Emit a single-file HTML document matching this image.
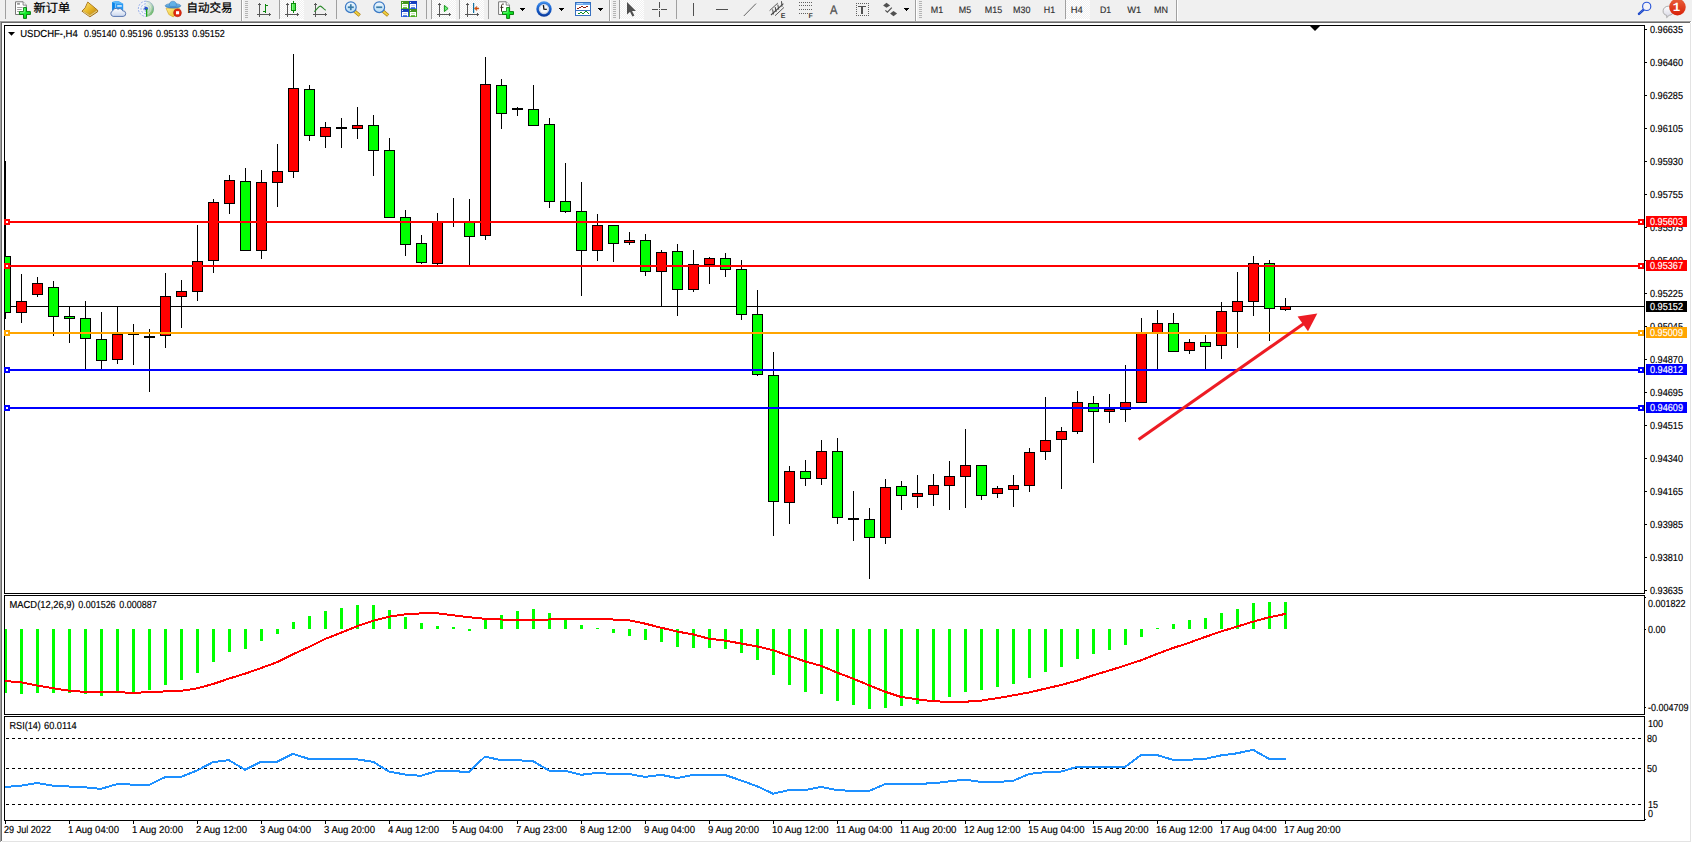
<!DOCTYPE html>
<html><head><meta charset="utf-8"><title>USDCHF-,H4</title>
<style>html,body{margin:0;padding:0;background:#fff;overflow:hidden}svg{display:block;font-family:"Liberation Sans","Noto Sans CJK SC",sans-serif;text-rendering:geometricPrecision}text{white-space:pre}</style>
</head><body>
<svg width="1692" height="843" viewBox="0 0 1692 843">
<defs>
<clipPath id="cm"><rect x="5" y="26" width="1639" height="567"/></clipPath>
<clipPath id="cd"><rect x="5" y="596" width="1639" height="118"/></clipPath>
<clipPath id="cr"><rect x="5" y="717" width="1639" height="103"/></clipPath>
<linearGradient id="gGold" x1="0" y1="0" x2="1" y2="1"><stop offset="0" stop-color="#fbe27a"/><stop offset="0.5" stop-color="#e9b92a"/><stop offset="1" stop-color="#b98112"/></linearGradient>
<linearGradient id="gPlus" x1="0" y1="0" x2="1" y2="1"><stop offset="0" stop-color="#6cff7c"/><stop offset="0.5" stop-color="#12ee2a"/><stop offset="1" stop-color="#04c018"/></linearGradient>
<linearGradient id="gPaper" x1="0" y1="0" x2="0" y2="1"><stop offset="0" stop-color="#ffffff"/><stop offset="1" stop-color="#e2e2e2"/></linearGradient>
<linearGradient id="gBlue" x1="0" y1="0" x2="0" y2="1"><stop offset="0" stop-color="#5aa6ee"/><stop offset="1" stop-color="#1658c0"/></linearGradient>
<linearGradient id="gLens" x1="0" y1="0" x2="0" y2="1"><stop offset="0" stop-color="#f2f9fe"/><stop offset="1" stop-color="#b4dcf6"/></linearGradient>
<linearGradient id="gBadge" x1="0" y1="0" x2="0" y2="1"><stop offset="0" stop-color="#e8603a"/><stop offset="1" stop-color="#d82008"/></linearGradient>
<linearGradient id="gGreenSq" x1="0" y1="0" x2="0" y2="1"><stop offset="0" stop-color="#3f8f1c"/><stop offset="1" stop-color="#4caf22"/></linearGradient>
<linearGradient id="gBlueSq" x1="0" y1="0" x2="0" y2="1"><stop offset="0" stop-color="#1238b8"/><stop offset="1" stop-color="#2a62dc"/></linearGradient>
<linearGradient id="gCloud" x1="0" y1="0" x2="0" y2="1"><stop offset="0" stop-color="#ffffff"/><stop offset="1" stop-color="#c9d6ee"/></linearGradient>
<linearGradient id="gHat" x1="0" y1="0" x2="0" y2="1"><stop offset="0" stop-color="#7cc4ec"/><stop offset="1" stop-color="#3a86c8"/></linearGradient>
<linearGradient id="gFace" x1="0" y1="0" x2="1" y2="1"><stop offset="0" stop-color="#fff08a"/><stop offset="1" stop-color="#e8b41e"/></linearGradient>
<pattern id="chk" width="2" height="2" patternUnits="userSpaceOnUse"><rect width="2" height="2" fill="#f0f0f0"/><rect width="1" height="1" fill="#fff"/><rect x="1" y="1" width="1" height="1" fill="#fff"/></pattern>
<linearGradient id="gSig" x1="0" y1="0" x2="1" y2="0"><stop offset="0" stop-color="#8ea6e4"/><stop offset="0.45" stop-color="#7c98dc"/><stop offset="0.6" stop-color="#7fb27f"/><stop offset="1" stop-color="#5aa05a"/></linearGradient>
<linearGradient id="gClock" x1="0" y1="0" x2="0" y2="1"><stop offset="0" stop-color="#4a98f0"/><stop offset="0.5" stop-color="#1560d0"/><stop offset="1" stop-color="#0a389a"/></linearGradient>
<linearGradient id="gRadar" x1="0" y1="0" x2="0.9" y2="1"><stop offset="0" stop-color="#d4e4d4" stop-opacity="0.3"/><stop offset="0.5" stop-color="#a4cca4" stop-opacity="0.7"/><stop offset="1" stop-color="#2c9c2c"/></linearGradient>
<linearGradient id="gBubble" x1="0" y1="0" x2="0" y2="1"><stop offset="0" stop-color="#ffffff"/><stop offset="1" stop-color="#d4d4e2"/></linearGradient>

</defs>
<g shape-rendering="crispEdges">
<rect x="0" y="0" width="1692" height="843" fill="#fff"/>
<rect x="0" y="0" width="1692" height="21" fill="#f0f0f0"/>
<rect x="0" y="20" width="1692" height="1" fill="#f6f6f6"/>
<rect x="0" y="21" width="1691" height="1" fill="#a0a0a0"/>
<rect x="1" y="22" width="1689" height="1" fill="#696969"/>
<rect x="0" y="22" width="1" height="820" fill="#a0a0a0"/>
<rect x="1" y="23" width="1" height="818" fill="#696969"/>
<rect x="1690" y="23" width="1" height="819" fill="#e3e3e3"/>
<rect x="2" y="841" width="1689" height="1" fill="#e3e3e3"/>
<rect x="1691" y="0" width="1" height="21" fill="#f0f0f0"/>
<rect x="4" y="25" width="1641" height="1" fill="#000"/>
<rect x="4" y="25" width="1" height="796" fill="#000"/>
<rect x="1644" y="25" width="1" height="796" fill="#000"/>
<rect x="4" y="593" width="1641" height="1" fill="#000"/>
<rect x="5" y="594" width="1639" height="1" fill="#fff"/>
<rect x="4" y="594" width="1" height="1" fill="#fff"/>
<rect x="1644" y="594" width="1" height="1" fill="#fff"/>
<rect x="4" y="595" width="1641" height="1" fill="#000"/>
<rect x="4" y="714" width="1641" height="1" fill="#000"/>
<rect x="4" y="715" width="1" height="1" fill="#fff"/>
<rect x="1644" y="715" width="1" height="1" fill="#fff"/>
<rect x="4" y="716" width="1641" height="1" fill="#000"/>
<rect x="4" y="820" width="1641" height="1" fill="#000"/>
<rect x="1645" y="819" width="1" height="1" fill="#000"/>
</g>
<g shape-rendering="crispEdges" clip-path="url(#cm)">
<rect x="5" y="306" width="1639" height="1" fill="#000"/>
<rect x="5" y="161" width="1" height="158" fill="#000"/>
<rect x="0" y="256" width="11" height="57" fill="#000"/>
<rect x="1" y="257" width="9" height="55" fill="#0f0"/>
<rect x="21" y="274" width="1" height="49" fill="#000"/>
<rect x="16" y="301" width="11" height="12" fill="#000"/>
<rect x="17" y="302" width="9" height="10" fill="#f00"/>
<rect x="37" y="277" width="1" height="20" fill="#000"/>
<rect x="32" y="283" width="11" height="12" fill="#000"/>
<rect x="33" y="284" width="9" height="10" fill="#f00"/>
<rect x="53" y="281" width="1" height="55" fill="#000"/>
<rect x="48" y="287" width="11" height="30" fill="#000"/>
<rect x="49" y="288" width="9" height="28" fill="#0f0"/>
<rect x="69" y="306" width="1" height="37" fill="#000"/>
<rect x="64" y="316" width="11" height="3" fill="#000"/>
<rect x="65" y="317" width="9" height="1" fill="#0f0"/>
<rect x="85" y="301" width="1" height="68" fill="#000"/>
<rect x="80" y="318" width="11" height="21" fill="#000"/>
<rect x="81" y="319" width="9" height="19" fill="#0f0"/>
<rect x="101" y="312" width="1" height="57" fill="#000"/>
<rect x="96" y="339" width="11" height="22" fill="#000"/>
<rect x="97" y="340" width="9" height="20" fill="#0f0"/>
<rect x="117" y="306" width="1" height="58" fill="#000"/>
<rect x="112" y="334" width="11" height="26" fill="#000"/>
<rect x="113" y="335" width="9" height="24" fill="#f00"/>
<rect x="133" y="324" width="1" height="41" fill="#000"/>
<rect x="128" y="334" width="11" height="1" fill="#000"/>
<rect x="149" y="329" width="1" height="63" fill="#000"/>
<rect x="144" y="336" width="11" height="2" fill="#000"/>
<rect x="165" y="273" width="1" height="75" fill="#000"/>
<rect x="160" y="296" width="11" height="40" fill="#000"/>
<rect x="161" y="297" width="9" height="38" fill="#f00"/>
<rect x="181" y="280" width="1" height="48" fill="#000"/>
<rect x="176" y="291" width="11" height="6" fill="#000"/>
<rect x="177" y="292" width="9" height="4" fill="#f00"/>
<rect x="197" y="225" width="1" height="76" fill="#000"/>
<rect x="192" y="261" width="11" height="31" fill="#000"/>
<rect x="193" y="262" width="9" height="29" fill="#f00"/>
<rect x="213" y="199" width="1" height="74" fill="#000"/>
<rect x="208" y="202" width="11" height="59" fill="#000"/>
<rect x="209" y="203" width="9" height="57" fill="#f00"/>
<rect x="229" y="175" width="1" height="39" fill="#000"/>
<rect x="224" y="180" width="11" height="24" fill="#000"/>
<rect x="225" y="181" width="9" height="22" fill="#f00"/>
<rect x="245" y="168" width="1" height="83" fill="#000"/>
<rect x="240" y="181" width="11" height="70" fill="#000"/>
<rect x="241" y="182" width="9" height="68" fill="#0f0"/>
<rect x="261" y="170" width="1" height="89" fill="#000"/>
<rect x="256" y="182" width="11" height="69" fill="#000"/>
<rect x="257" y="183" width="9" height="67" fill="#f00"/>
<rect x="277" y="144" width="1" height="63" fill="#000"/>
<rect x="272" y="171" width="11" height="12" fill="#000"/>
<rect x="273" y="172" width="9" height="10" fill="#f00"/>
<rect x="293" y="54" width="1" height="124" fill="#000"/>
<rect x="288" y="88" width="11" height="84" fill="#000"/>
<rect x="289" y="89" width="9" height="82" fill="#f00"/>
<rect x="309" y="85" width="1" height="56" fill="#000"/>
<rect x="304" y="89" width="11" height="47" fill="#000"/>
<rect x="305" y="90" width="9" height="45" fill="#0f0"/>
<rect x="325" y="122" width="1" height="26" fill="#000"/>
<rect x="320" y="127" width="11" height="10" fill="#000"/>
<rect x="321" y="128" width="9" height="8" fill="#f00"/>
<rect x="341" y="118" width="1" height="30" fill="#000"/>
<rect x="336" y="127" width="11" height="2" fill="#000"/>
<rect x="357" y="107" width="1" height="32" fill="#000"/>
<rect x="352" y="125" width="11" height="4" fill="#000"/>
<rect x="353" y="126" width="9" height="2" fill="#f00"/>
<rect x="373" y="115" width="1" height="61" fill="#000"/>
<rect x="368" y="125" width="11" height="26" fill="#000"/>
<rect x="369" y="126" width="9" height="24" fill="#0f0"/>
<rect x="389" y="138" width="1" height="80" fill="#000"/>
<rect x="384" y="150" width="11" height="68" fill="#000"/>
<rect x="385" y="151" width="9" height="66" fill="#0f0"/>
<rect x="405" y="210" width="1" height="46" fill="#000"/>
<rect x="400" y="217" width="11" height="28" fill="#000"/>
<rect x="401" y="218" width="9" height="26" fill="#0f0"/>
<rect x="421" y="235" width="1" height="29" fill="#000"/>
<rect x="416" y="243" width="11" height="20" fill="#000"/>
<rect x="417" y="244" width="9" height="18" fill="#0f0"/>
<rect x="437" y="213" width="1" height="52" fill="#000"/>
<rect x="432" y="221" width="11" height="43" fill="#000"/>
<rect x="433" y="222" width="9" height="41" fill="#f00"/>
<rect x="453" y="198" width="1" height="29" fill="#000"/>
<rect x="448" y="222" width="11" height="1" fill="#000"/>
<rect x="469" y="199" width="1" height="66" fill="#000"/>
<rect x="464" y="222" width="11" height="15" fill="#000"/>
<rect x="465" y="223" width="9" height="13" fill="#0f0"/>
<rect x="485" y="57" width="1" height="183" fill="#000"/>
<rect x="480" y="84" width="11" height="152" fill="#000"/>
<rect x="481" y="85" width="9" height="150" fill="#f00"/>
<rect x="501" y="79" width="1" height="50" fill="#000"/>
<rect x="496" y="85" width="11" height="29" fill="#000"/>
<rect x="497" y="86" width="9" height="27" fill="#0f0"/>
<rect x="517" y="107" width="1" height="9" fill="#000"/>
<rect x="512" y="108" width="11" height="2" fill="#000"/>
<rect x="533" y="85" width="1" height="41" fill="#000"/>
<rect x="528" y="109" width="11" height="17" fill="#000"/>
<rect x="529" y="110" width="9" height="15" fill="#0f0"/>
<rect x="549" y="118" width="1" height="90" fill="#000"/>
<rect x="544" y="124" width="11" height="78" fill="#000"/>
<rect x="545" y="125" width="9" height="76" fill="#0f0"/>
<rect x="565" y="163" width="1" height="50" fill="#000"/>
<rect x="560" y="201" width="11" height="11" fill="#000"/>
<rect x="561" y="202" width="9" height="9" fill="#0f0"/>
<rect x="581" y="182" width="1" height="114" fill="#000"/>
<rect x="576" y="211" width="11" height="40" fill="#000"/>
<rect x="577" y="212" width="9" height="38" fill="#0f0"/>
<rect x="597" y="214" width="1" height="47" fill="#000"/>
<rect x="592" y="225" width="11" height="26" fill="#000"/>
<rect x="593" y="226" width="9" height="24" fill="#f00"/>
<rect x="613" y="225" width="1" height="37" fill="#000"/>
<rect x="608" y="225" width="11" height="19" fill="#000"/>
<rect x="609" y="226" width="9" height="17" fill="#0f0"/>
<rect x="629" y="232" width="1" height="13" fill="#000"/>
<rect x="624" y="240" width="11" height="3" fill="#000"/>
<rect x="625" y="241" width="9" height="1" fill="#f00"/>
<rect x="645" y="234" width="1" height="42" fill="#000"/>
<rect x="640" y="240" width="11" height="32" fill="#000"/>
<rect x="641" y="241" width="9" height="30" fill="#0f0"/>
<rect x="661" y="250" width="1" height="56" fill="#000"/>
<rect x="656" y="252" width="11" height="20" fill="#000"/>
<rect x="657" y="253" width="9" height="18" fill="#f00"/>
<rect x="677" y="244" width="1" height="72" fill="#000"/>
<rect x="672" y="251" width="11" height="39" fill="#000"/>
<rect x="673" y="252" width="9" height="37" fill="#0f0"/>
<rect x="693" y="250" width="1" height="42" fill="#000"/>
<rect x="688" y="264" width="11" height="26" fill="#000"/>
<rect x="689" y="265" width="9" height="24" fill="#f00"/>
<rect x="709" y="257" width="1" height="27" fill="#000"/>
<rect x="704" y="258" width="11" height="7" fill="#000"/>
<rect x="705" y="259" width="9" height="5" fill="#f00"/>
<rect x="725" y="253" width="1" height="24" fill="#000"/>
<rect x="720" y="258" width="11" height="12" fill="#000"/>
<rect x="721" y="259" width="9" height="10" fill="#0f0"/>
<rect x="741" y="260" width="1" height="60" fill="#000"/>
<rect x="736" y="269" width="11" height="46" fill="#000"/>
<rect x="737" y="270" width="9" height="44" fill="#0f0"/>
<rect x="757" y="290" width="1" height="86" fill="#000"/>
<rect x="752" y="314" width="11" height="61" fill="#000"/>
<rect x="753" y="315" width="9" height="59" fill="#0f0"/>
<rect x="773" y="352" width="1" height="184" fill="#000"/>
<rect x="768" y="375" width="11" height="127" fill="#000"/>
<rect x="769" y="376" width="9" height="125" fill="#0f0"/>
<rect x="789" y="466" width="1" height="58" fill="#000"/>
<rect x="784" y="471" width="11" height="32" fill="#000"/>
<rect x="785" y="472" width="9" height="30" fill="#f00"/>
<rect x="805" y="460" width="1" height="26" fill="#000"/>
<rect x="800" y="471" width="11" height="8" fill="#000"/>
<rect x="801" y="472" width="9" height="6" fill="#0f0"/>
<rect x="821" y="440" width="1" height="45" fill="#000"/>
<rect x="816" y="451" width="11" height="28" fill="#000"/>
<rect x="817" y="452" width="9" height="26" fill="#f00"/>
<rect x="837" y="438" width="1" height="86" fill="#000"/>
<rect x="832" y="451" width="11" height="67" fill="#000"/>
<rect x="833" y="452" width="9" height="65" fill="#0f0"/>
<rect x="853" y="491" width="1" height="50" fill="#000"/>
<rect x="848" y="518" width="11" height="2" fill="#000"/>
<rect x="869" y="508" width="1" height="71" fill="#000"/>
<rect x="864" y="519" width="11" height="19" fill="#000"/>
<rect x="865" y="520" width="9" height="17" fill="#0f0"/>
<rect x="885" y="479" width="1" height="65" fill="#000"/>
<rect x="880" y="487" width="11" height="51" fill="#000"/>
<rect x="881" y="488" width="9" height="49" fill="#f00"/>
<rect x="901" y="481" width="1" height="29" fill="#000"/>
<rect x="896" y="486" width="11" height="10" fill="#000"/>
<rect x="897" y="487" width="9" height="8" fill="#0f0"/>
<rect x="917" y="475" width="1" height="33" fill="#000"/>
<rect x="912" y="493" width="11" height="4" fill="#000"/>
<rect x="913" y="494" width="9" height="2" fill="#f00"/>
<rect x="933" y="474" width="1" height="32" fill="#000"/>
<rect x="928" y="485" width="11" height="10" fill="#000"/>
<rect x="929" y="486" width="9" height="8" fill="#f00"/>
<rect x="949" y="461" width="1" height="49" fill="#000"/>
<rect x="944" y="476" width="11" height="10" fill="#000"/>
<rect x="945" y="477" width="9" height="8" fill="#f00"/>
<rect x="965" y="429" width="1" height="79" fill="#000"/>
<rect x="960" y="465" width="11" height="12" fill="#000"/>
<rect x="961" y="466" width="9" height="10" fill="#f00"/>
<rect x="981" y="465" width="1" height="35" fill="#000"/>
<rect x="976" y="465" width="11" height="31" fill="#000"/>
<rect x="977" y="466" width="9" height="29" fill="#0f0"/>
<rect x="997" y="486" width="1" height="12" fill="#000"/>
<rect x="992" y="488" width="11" height="6" fill="#000"/>
<rect x="993" y="489" width="9" height="4" fill="#f00"/>
<rect x="1013" y="475" width="1" height="32" fill="#000"/>
<rect x="1008" y="485" width="11" height="5" fill="#000"/>
<rect x="1009" y="486" width="9" height="3" fill="#f00"/>
<rect x="1029" y="448" width="1" height="44" fill="#000"/>
<rect x="1024" y="452" width="11" height="34" fill="#000"/>
<rect x="1025" y="453" width="9" height="32" fill="#f00"/>
<rect x="1045" y="397" width="1" height="63" fill="#000"/>
<rect x="1040" y="440" width="11" height="12" fill="#000"/>
<rect x="1041" y="441" width="9" height="10" fill="#f00"/>
<rect x="1061" y="427" width="1" height="62" fill="#000"/>
<rect x="1056" y="431" width="11" height="9" fill="#000"/>
<rect x="1057" y="432" width="9" height="7" fill="#f00"/>
<rect x="1077" y="391" width="1" height="43" fill="#000"/>
<rect x="1072" y="402" width="11" height="30" fill="#000"/>
<rect x="1073" y="403" width="9" height="28" fill="#f00"/>
<rect x="1093" y="396" width="1" height="67" fill="#000"/>
<rect x="1088" y="403" width="11" height="9" fill="#000"/>
<rect x="1089" y="404" width="9" height="7" fill="#0f0"/>
<rect x="1109" y="394" width="1" height="29" fill="#000"/>
<rect x="1104" y="409" width="11" height="3" fill="#000"/>
<rect x="1105" y="410" width="9" height="1" fill="#f00"/>
<rect x="1125" y="365" width="1" height="57" fill="#000"/>
<rect x="1120" y="402" width="11" height="8" fill="#000"/>
<rect x="1121" y="403" width="9" height="6" fill="#f00"/>
<rect x="1141" y="318" width="1" height="85" fill="#000"/>
<rect x="1136" y="333" width="11" height="70" fill="#000"/>
<rect x="1137" y="334" width="9" height="68" fill="#f00"/>
<rect x="1157" y="310" width="1" height="59" fill="#000"/>
<rect x="1152" y="323" width="11" height="11" fill="#000"/>
<rect x="1153" y="324" width="9" height="9" fill="#f00"/>
<rect x="1173" y="313" width="1" height="39" fill="#000"/>
<rect x="1168" y="323" width="11" height="29" fill="#000"/>
<rect x="1169" y="324" width="9" height="27" fill="#0f0"/>
<rect x="1189" y="339" width="1" height="15" fill="#000"/>
<rect x="1184" y="342" width="11" height="9" fill="#000"/>
<rect x="1185" y="343" width="9" height="7" fill="#f00"/>
<rect x="1205" y="335" width="1" height="34" fill="#000"/>
<rect x="1200" y="342" width="11" height="5" fill="#000"/>
<rect x="1201" y="343" width="9" height="3" fill="#0f0"/>
<rect x="1221" y="302" width="1" height="57" fill="#000"/>
<rect x="1216" y="311" width="11" height="35" fill="#000"/>
<rect x="1217" y="312" width="9" height="33" fill="#f00"/>
<rect x="1237" y="272" width="1" height="76" fill="#000"/>
<rect x="1232" y="301" width="11" height="11" fill="#000"/>
<rect x="1233" y="302" width="9" height="9" fill="#f00"/>
<rect x="1253" y="256" width="1" height="60" fill="#000"/>
<rect x="1248" y="263" width="11" height="39" fill="#000"/>
<rect x="1249" y="264" width="9" height="37" fill="#f00"/>
<rect x="1269" y="260" width="1" height="81" fill="#000"/>
<rect x="1264" y="263" width="11" height="46" fill="#000"/>
<rect x="1265" y="264" width="9" height="44" fill="#0f0"/>
<rect x="1285" y="298" width="1" height="13" fill="#000"/>
<rect x="1280" y="306" width="11" height="4" fill="#000"/>
<rect x="1281" y="307" width="9" height="2" fill="#f00"/>
</g>
<g shape-rendering="crispEdges">
<rect x="5" y="221" width="1639" height="2" fill="#f00"/>
<rect x="4" y="219" width="6" height="6" fill="#f00"/>
<rect x="6" y="221" width="2" height="2" fill="#fff"/>
<rect x="1638" y="219" width="6" height="6" fill="#f00"/>
<rect x="1640" y="221" width="2" height="2" fill="#fff"/>
<rect x="5" y="265" width="1639" height="2" fill="#f00"/>
<rect x="4" y="263" width="6" height="6" fill="#f00"/>
<rect x="6" y="265" width="2" height="2" fill="#fff"/>
<rect x="1638" y="263" width="6" height="6" fill="#f00"/>
<rect x="1640" y="265" width="2" height="2" fill="#fff"/>
<rect x="5" y="332" width="1639" height="2" fill="#ffa500"/>
<rect x="4" y="330" width="6" height="6" fill="#ffa500"/>
<rect x="6" y="332" width="2" height="2" fill="#fff"/>
<rect x="1638" y="330" width="6" height="6" fill="#ffa500"/>
<rect x="1640" y="332" width="2" height="2" fill="#fff"/>
<rect x="5" y="369" width="1639" height="2" fill="#00f"/>
<rect x="4" y="367" width="6" height="6" fill="#00f"/>
<rect x="6" y="369" width="2" height="2" fill="#fff"/>
<rect x="1638" y="367" width="6" height="6" fill="#00f"/>
<rect x="1640" y="369" width="2" height="2" fill="#fff"/>
<rect x="5" y="407" width="1639" height="2" fill="#00f"/>
<rect x="4" y="405" width="6" height="6" fill="#00f"/>
<rect x="6" y="407" width="2" height="2" fill="#fff"/>
<rect x="1638" y="405" width="6" height="6" fill="#00f"/>
<rect x="1640" y="407" width="2" height="2" fill="#fff"/>
</g>
<g><line x1="1138.6" y1="439.6" x2="1304.3" y2="323.3" stroke="#ed1c24" stroke-width="3.1"/>
<polygon points="1317.3,313.6 1297.6,316.6 1308,331.2" fill="#ed1c24"/></g>
<g shape-rendering="crispEdges">
<rect x="1645" y="29" width="2" height="1" fill="#000"/>
<rect x="1645" y="62" width="2" height="1" fill="#000"/>
<rect x="1645" y="95" width="2" height="1" fill="#000"/>
<rect x="1645" y="128" width="2" height="1" fill="#000"/>
<rect x="1645" y="161" width="2" height="1" fill="#000"/>
<rect x="1645" y="194" width="2" height="1" fill="#000"/>
<rect x="1645" y="227" width="2" height="1" fill="#000"/>
<rect x="1645" y="260" width="2" height="1" fill="#000"/>
<rect x="1645" y="293" width="2" height="1" fill="#000"/>
<rect x="1645" y="326" width="2" height="1" fill="#000"/>
<rect x="1645" y="359" width="2" height="1" fill="#000"/>
<rect x="1645" y="392" width="2" height="1" fill="#000"/>
<rect x="1645" y="425" width="2" height="1" fill="#000"/>
<rect x="1645" y="458" width="2" height="1" fill="#000"/>
<rect x="1645" y="491" width="2" height="1" fill="#000"/>
<rect x="1645" y="524" width="2" height="1" fill="#000"/>
<rect x="1645" y="557" width="2" height="1" fill="#000"/>
<rect x="1645" y="590" width="2" height="1" fill="#000"/>
</g>
<g>
<text x="1650" y="33" font-size="10.2" fill="#000" stroke="#000" stroke-width="0.16" textLength="33" lengthAdjust="spacingAndGlyphs">0.96635</text>
<text x="1650" y="66" font-size="10.2" fill="#000" stroke="#000" stroke-width="0.16" textLength="33" lengthAdjust="spacingAndGlyphs">0.96460</text>
<text x="1650" y="99" font-size="10.2" fill="#000" stroke="#000" stroke-width="0.16" textLength="33" lengthAdjust="spacingAndGlyphs">0.96285</text>
<text x="1650" y="132" font-size="10.2" fill="#000" stroke="#000" stroke-width="0.16" textLength="33" lengthAdjust="spacingAndGlyphs">0.96105</text>
<text x="1650" y="165" font-size="10.2" fill="#000" stroke="#000" stroke-width="0.16" textLength="33" lengthAdjust="spacingAndGlyphs">0.95930</text>
<text x="1650" y="198" font-size="10.2" fill="#000" stroke="#000" stroke-width="0.16" textLength="33" lengthAdjust="spacingAndGlyphs">0.95755</text>
<text x="1650" y="231" font-size="10.2" fill="#000" stroke="#000" stroke-width="0.16" textLength="33" lengthAdjust="spacingAndGlyphs">0.95575</text>
<text x="1650" y="264" font-size="10.2" fill="#000" stroke="#000" stroke-width="0.16" textLength="33" lengthAdjust="spacingAndGlyphs">0.95400</text>
<text x="1650" y="297" font-size="10.2" fill="#000" stroke="#000" stroke-width="0.16" textLength="33" lengthAdjust="spacingAndGlyphs">0.95225</text>
<text x="1650" y="330" font-size="10.2" fill="#000" stroke="#000" stroke-width="0.16" textLength="33" lengthAdjust="spacingAndGlyphs">0.95045</text>
<text x="1650" y="363" font-size="10.2" fill="#000" stroke="#000" stroke-width="0.16" textLength="33" lengthAdjust="spacingAndGlyphs">0.94870</text>
<text x="1650" y="396" font-size="10.2" fill="#000" stroke="#000" stroke-width="0.16" textLength="33" lengthAdjust="spacingAndGlyphs">0.94695</text>
<text x="1650" y="429" font-size="10.2" fill="#000" stroke="#000" stroke-width="0.16" textLength="33" lengthAdjust="spacingAndGlyphs">0.94515</text>
<text x="1650" y="462" font-size="10.2" fill="#000" stroke="#000" stroke-width="0.16" textLength="33" lengthAdjust="spacingAndGlyphs">0.94340</text>
<text x="1650" y="495" font-size="10.2" fill="#000" stroke="#000" stroke-width="0.16" textLength="33" lengthAdjust="spacingAndGlyphs">0.94165</text>
<text x="1650" y="528" font-size="10.2" fill="#000" stroke="#000" stroke-width="0.16" textLength="33" lengthAdjust="spacingAndGlyphs">0.93985</text>
<text x="1650" y="561" font-size="10.2" fill="#000" stroke="#000" stroke-width="0.16" textLength="33" lengthAdjust="spacingAndGlyphs">0.93810</text>
<text x="1650" y="594" font-size="10.2" fill="#000" stroke="#000" stroke-width="0.16" textLength="33" lengthAdjust="spacingAndGlyphs">0.93635</text>
</g>
<g shape-rendering="crispEdges">
<rect x="1646" y="216" width="41" height="11" fill="#f00"/>
<rect x="1646" y="260" width="41" height="11" fill="#f00"/>
<rect x="1646" y="327" width="41" height="11" fill="#ffa500"/>
<rect x="1646" y="364" width="41" height="11" fill="#00f"/>
<rect x="1646" y="402" width="41" height="11" fill="#00f"/>
<rect x="1646" y="301" width="41" height="11" fill="#000"/>
</g>
<g>
<text x="1650" y="225" font-size="10.2" fill="#fff" stroke="#fff" stroke-width="0.16" textLength="33" lengthAdjust="spacingAndGlyphs">0.95603</text>
<text x="1650" y="269" font-size="10.2" fill="#fff" stroke="#fff" stroke-width="0.16" textLength="33" lengthAdjust="spacingAndGlyphs">0.95367</text>
<text x="1650" y="336" font-size="10.2" fill="#fff" stroke="#fff" stroke-width="0.16" textLength="33" lengthAdjust="spacingAndGlyphs">0.95009</text>
<text x="1650" y="373" font-size="10.2" fill="#fff" stroke="#fff" stroke-width="0.16" textLength="33" lengthAdjust="spacingAndGlyphs">0.94812</text>
<text x="1650" y="411" font-size="10.2" fill="#fff" stroke="#fff" stroke-width="0.16" textLength="33" lengthAdjust="spacingAndGlyphs">0.94609</text>
<text x="1650" y="310" font-size="10.2" fill="#fff" stroke="#fff" stroke-width="0.16" textLength="33" lengthAdjust="spacingAndGlyphs">0.95152</text>
</g>
<polygon points="8,32 15,32 11.5,35.8" fill="#000"/>
<text x="20.2" y="37" font-size="10.2" fill="#000" stroke="#000" stroke-width="0.16" textLength="57.6" lengthAdjust="spacingAndGlyphs">USDCHF-,H4</text>
<text x="84" y="37" font-size="10.2" fill="#000" stroke="#000" stroke-width="0.16" textLength="32.5" lengthAdjust="spacingAndGlyphs">0.95140</text>
<text x="120" y="37" font-size="10.2" fill="#000" stroke="#000" stroke-width="0.16" textLength="32.5" lengthAdjust="spacingAndGlyphs">0.95196</text>
<text x="156" y="37" font-size="10.2" fill="#000" stroke="#000" stroke-width="0.16" textLength="32.5" lengthAdjust="spacingAndGlyphs">0.95133</text>
<text x="192.2" y="37" font-size="10.2" fill="#000" stroke="#000" stroke-width="0.16" textLength="32.5" lengthAdjust="spacingAndGlyphs">0.95152</text>
<polygon points="1310,26 1320,26 1315,31" fill="#000"/>
<g shape-rendering="crispEdges" clip-path="url(#cd)">
<rect x="4" y="629" width="3" height="64" fill="#0f0"/>
<rect x="20" y="629" width="3" height="65" fill="#0f0"/>
<rect x="36" y="629" width="3" height="64" fill="#0f0"/>
<rect x="52" y="629" width="3" height="64" fill="#0f0"/>
<rect x="68" y="629" width="3" height="64" fill="#0f0"/>
<rect x="84" y="629" width="3" height="65" fill="#0f0"/>
<rect x="100" y="629" width="3" height="67" fill="#0f0"/>
<rect x="116" y="629" width="3" height="64" fill="#0f0"/>
<rect x="132" y="629" width="3" height="63" fill="#0f0"/>
<rect x="148" y="629" width="3" height="61" fill="#0f0"/>
<rect x="164" y="629" width="3" height="56" fill="#0f0"/>
<rect x="180" y="629" width="3" height="51" fill="#0f0"/>
<rect x="196" y="629" width="3" height="44" fill="#0f0"/>
<rect x="212" y="629" width="3" height="33" fill="#0f0"/>
<rect x="228" y="629" width="3" height="23" fill="#0f0"/>
<rect x="244" y="629" width="3" height="20" fill="#0f0"/>
<rect x="260" y="629" width="3" height="12" fill="#0f0"/>
<rect x="276" y="629" width="3" height="5" fill="#0f0"/>
<rect x="292" y="622" width="3" height="7" fill="#0f0"/>
<rect x="308" y="616" width="3" height="13" fill="#0f0"/>
<rect x="324" y="611" width="3" height="18" fill="#0f0"/>
<rect x="340" y="608" width="3" height="21" fill="#0f0"/>
<rect x="356" y="605" width="3" height="24" fill="#0f0"/>
<rect x="372" y="605" width="3" height="24" fill="#0f0"/>
<rect x="388" y="610" width="3" height="19" fill="#0f0"/>
<rect x="404" y="617" width="3" height="12" fill="#0f0"/>
<rect x="420" y="623" width="3" height="6" fill="#0f0"/>
<rect x="436" y="626" width="3" height="3" fill="#0f0"/>
<rect x="452" y="627" width="3" height="2" fill="#0f0"/>
<rect x="468" y="629" width="3" height="2" fill="#0f0"/>
<rect x="484" y="620" width="3" height="9" fill="#0f0"/>
<rect x="500" y="615" width="3" height="14" fill="#0f0"/>
<rect x="516" y="611" width="3" height="18" fill="#0f0"/>
<rect x="532" y="609" width="3" height="20" fill="#0f0"/>
<rect x="548" y="613" width="3" height="16" fill="#0f0"/>
<rect x="564" y="620" width="3" height="9" fill="#0f0"/>
<rect x="580" y="625" width="3" height="4" fill="#0f0"/>
<rect x="596" y="628" width="3" height="1" fill="#0f0"/>
<rect x="612" y="629" width="3" height="4" fill="#0f0"/>
<rect x="628" y="629" width="3" height="7" fill="#0f0"/>
<rect x="644" y="629" width="3" height="11" fill="#0f0"/>
<rect x="660" y="629" width="3" height="13" fill="#0f0"/>
<rect x="676" y="629" width="3" height="18" fill="#0f0"/>
<rect x="692" y="629" width="3" height="19" fill="#0f0"/>
<rect x="708" y="629" width="3" height="19" fill="#0f0"/>
<rect x="724" y="629" width="3" height="20" fill="#0f0"/>
<rect x="740" y="629" width="3" height="24" fill="#0f0"/>
<rect x="756" y="629" width="3" height="31" fill="#0f0"/>
<rect x="772" y="629" width="3" height="46" fill="#0f0"/>
<rect x="788" y="629" width="3" height="56" fill="#0f0"/>
<rect x="804" y="629" width="3" height="63" fill="#0f0"/>
<rect x="820" y="629" width="3" height="65" fill="#0f0"/>
<rect x="836" y="629" width="3" height="72" fill="#0f0"/>
<rect x="852" y="629" width="3" height="76" fill="#0f0"/>
<rect x="868" y="629" width="3" height="80" fill="#0f0"/>
<rect x="884" y="629" width="3" height="79" fill="#0f0"/>
<rect x="900" y="629" width="3" height="77" fill="#0f0"/>
<rect x="916" y="629" width="3" height="75" fill="#0f0"/>
<rect x="932" y="629" width="3" height="72" fill="#0f0"/>
<rect x="948" y="629" width="3" height="68" fill="#0f0"/>
<rect x="964" y="629" width="3" height="63" fill="#0f0"/>
<rect x="980" y="629" width="3" height="61" fill="#0f0"/>
<rect x="996" y="629" width="3" height="58" fill="#0f0"/>
<rect x="1012" y="629" width="3" height="55" fill="#0f0"/>
<rect x="1028" y="629" width="3" height="49" fill="#0f0"/>
<rect x="1044" y="629" width="3" height="43" fill="#0f0"/>
<rect x="1060" y="629" width="3" height="38" fill="#0f0"/>
<rect x="1076" y="629" width="3" height="30" fill="#0f0"/>
<rect x="1092" y="629" width="3" height="25" fill="#0f0"/>
<rect x="1108" y="629" width="3" height="21" fill="#0f0"/>
<rect x="1124" y="629" width="3" height="16" fill="#0f0"/>
<rect x="1140" y="629" width="3" height="8" fill="#0f0"/>
<rect x="1156" y="628" width="3" height="1" fill="#0f0"/>
<rect x="1172" y="624" width="3" height="5" fill="#0f0"/>
<rect x="1188" y="620" width="3" height="9" fill="#0f0"/>
<rect x="1204" y="618" width="3" height="11" fill="#0f0"/>
<rect x="1220" y="613" width="3" height="16" fill="#0f0"/>
<rect x="1236" y="609" width="3" height="20" fill="#0f0"/>
<rect x="1252" y="603" width="3" height="26" fill="#0f0"/>
<rect x="1268" y="602" width="3" height="27" fill="#0f0"/>
<rect x="1284" y="602" width="3" height="27" fill="#0f0"/>
<polyline fill="none" stroke="#f00" stroke-width="2" stroke-linecap="square" points="5,681 21,682.3 37,685.5 53,688.2 69,690.7 85,691.9 101,691.9 117,692.3 133,692.7 149,692.3 165,691.4 181,690.8 197,688.4 213,684 229,678.6 245,673.7 261,668.1 277,662.2 293,654.2 309,647 325,639 341,632.7 357,626.3 373,620.7 389,616.7 405,614.4 421,613.4 437,613.2 453,615.3 469,617.2 485,618.8 501,619.5 517,619.9 533,619.9 549,619.5 565,619 581,619 597,619 613,619.5 629,620.3 645,623.6 661,627.7 677,631.5 693,634.4 709,638.7 725,640.6 741,643.5 757,646.4 773,650.2 789,655.8 805,661.4 821,665.8 837,672.5 853,678.6 869,685.3 885,691.7 901,697 917,699.2 933,701.3 949,701.75 965,701.75 981,700.6 997,698.2 1013,695.4 1029,692.5 1045,688.7 1061,685 1077,680.7 1093,675.4 1109,670.6 1125,665.5 1141,660.3 1157,653.9 1173,648 1189,642.8 1205,637 1221,631.5 1237,626.6 1253,621.7 1269,617.3 1285,614"/>
</g>
<text x="9.5" y="608" font-size="10.2" fill="#000" stroke="#000" stroke-width="0.16" textLength="65.2" lengthAdjust="spacingAndGlyphs">MACD(12,26,9)</text>
<text x="78.3" y="608" font-size="10.2" fill="#000" stroke="#000" stroke-width="0.16" textLength="37.3" lengthAdjust="spacingAndGlyphs">0.001526</text>
<text x="119.3" y="608" font-size="10.2" fill="#000" stroke="#000" stroke-width="0.16" textLength="37.4" lengthAdjust="spacingAndGlyphs">0.000887</text>
<g shape-rendering="crispEdges">
<rect x="1645" y="597" width="1" height="1" fill="#000"/>
<rect x="1645" y="629" width="1" height="1" fill="#000"/>
<rect x="1645" y="707" width="1" height="1" fill="#000"/>
</g>
<text x="1648" y="606.5" font-size="10.2" fill="#000" stroke="#000" stroke-width="0.16" textLength="37.5" lengthAdjust="spacingAndGlyphs">0.001822</text>
<text x="1648" y="633" font-size="10.2" fill="#000" stroke="#000" stroke-width="0.16" textLength="17.5" lengthAdjust="spacingAndGlyphs">0.00</text>
<text x="1648" y="711" font-size="10.2" fill="#000" stroke="#000" stroke-width="0.16" textLength="40.5" lengthAdjust="spacingAndGlyphs">-0.004709</text>
<g shape-rendering="crispEdges" clip-path="url(#cr)">
<line x1="6" y1="738.5" x2="1644" y2="738.5" stroke="#000" stroke-width="1" stroke-dasharray="3,3"/>
<line x1="6" y1="768.5" x2="1644" y2="768.5" stroke="#000" stroke-width="1" stroke-dasharray="3,3"/>
<line x1="6" y1="804.5" x2="1644" y2="804.5" stroke="#000" stroke-width="1" stroke-dasharray="3,3"/>
<polyline fill="none" stroke="#1e90ff" stroke-width="2" stroke-linecap="square" points="5,787 21,785.7 37,783 53,785.7 69,786.5 85,787.3 101,788.9 117,784.1 133,784.6 149,784.9 165,777.2 181,776.9 197,770.5 213,762.1 229,760.2 245,769.7 261,761.75 277,761.75 293,753.8 309,759 325,759 341,759 357,759.4 373,761.75 389,771.6 405,774.5 421,775.8 437,770.85 453,771.3 469,771.8 485,756.6 501,760.2 517,760.2 533,761.2 549,770.5 565,770.85 581,774.8 597,772.9 613,774 629,774 645,776.9 661,774.8 677,778 693,775 709,774.8 725,775 741,780.4 757,786.2 773,793.7 789,790.1 805,790 821,787 837,790 853,791 869,791 885,784.1 901,783.8 917,783.8 933,783.3 949,781.4 965,779.6 981,782 997,782 1013,780.9 1029,774 1045,772.2 1061,771.6 1077,766.9 1093,766.9 1109,766.9 1125,766.9 1141,755.05 1157,755.05 1173,759.8 1189,759.7 1205,758.9 1221,755.4 1237,753.3 1253,749.8 1269,758.9 1285,758.9"/>
</g>
<text x="9.5" y="729" font-size="10.2" fill="#000" stroke="#000" stroke-width="0.16" textLength="31.4" lengthAdjust="spacingAndGlyphs">RSI(14)</text>
<text x="44" y="729" font-size="10.2" fill="#000" stroke="#000" stroke-width="0.16" textLength="32.7" lengthAdjust="spacingAndGlyphs">60.0114</text>
<text x="1648" y="727" font-size="10.2" fill="#000" stroke="#000" stroke-width="0.16" textLength="15" lengthAdjust="spacingAndGlyphs">100</text>
<text x="1647" y="742" font-size="10.2" fill="#000" stroke="#000" stroke-width="0.16" textLength="10" lengthAdjust="spacingAndGlyphs">80</text>
<text x="1647" y="772" font-size="10.2" fill="#000" stroke="#000" stroke-width="0.16" textLength="10" lengthAdjust="spacingAndGlyphs">50</text>
<text x="1648" y="808" font-size="10.2" fill="#000" stroke="#000" stroke-width="0.16" textLength="10" lengthAdjust="spacingAndGlyphs">15</text>
<text x="1648" y="817" font-size="10.2" fill="#000" stroke="#000" stroke-width="0.16" textLength="5" lengthAdjust="spacingAndGlyphs">0</text>
<g shape-rendering="crispEdges">
<rect x="5" y="821" width="1" height="3" fill="#000"/>
<rect x="69" y="821" width="1" height="3" fill="#000"/>
<rect x="133" y="821" width="1" height="3" fill="#000"/>
<rect x="197" y="821" width="1" height="3" fill="#000"/>
<rect x="261" y="821" width="1" height="3" fill="#000"/>
<rect x="325" y="821" width="1" height="3" fill="#000"/>
<rect x="389" y="821" width="1" height="3" fill="#000"/>
<rect x="453" y="821" width="1" height="3" fill="#000"/>
<rect x="517" y="821" width="1" height="3" fill="#000"/>
<rect x="581" y="821" width="1" height="3" fill="#000"/>
<rect x="645" y="821" width="1" height="3" fill="#000"/>
<rect x="709" y="821" width="1" height="3" fill="#000"/>
<rect x="773" y="821" width="1" height="3" fill="#000"/>
<rect x="837" y="821" width="1" height="3" fill="#000"/>
<rect x="901" y="821" width="1" height="3" fill="#000"/>
<rect x="965" y="821" width="1" height="3" fill="#000"/>
<rect x="1029" y="821" width="1" height="3" fill="#000"/>
<rect x="1093" y="821" width="1" height="3" fill="#000"/>
<rect x="1157" y="821" width="1" height="3" fill="#000"/>
<rect x="1221" y="821" width="1" height="3" fill="#000"/>
<rect x="1285" y="821" width="1" height="3" fill="#000"/>
</g>
<g>
<text x="4" y="833" font-size="10.2" fill="#000" stroke="#000" stroke-width="0.16" textLength="47" lengthAdjust="spacingAndGlyphs">29 Jul 2022</text>
<text x="68" y="833" font-size="10.2" fill="#000" stroke="#000" stroke-width="0.16" textLength="51" lengthAdjust="spacingAndGlyphs">1 Aug 04:00</text>
<text x="132" y="833" font-size="10.2" fill="#000" stroke="#000" stroke-width="0.16" textLength="51" lengthAdjust="spacingAndGlyphs">1 Aug 20:00</text>
<text x="196" y="833" font-size="10.2" fill="#000" stroke="#000" stroke-width="0.16" textLength="51" lengthAdjust="spacingAndGlyphs">2 Aug 12:00</text>
<text x="260" y="833" font-size="10.2" fill="#000" stroke="#000" stroke-width="0.16" textLength="51" lengthAdjust="spacingAndGlyphs">3 Aug 04:00</text>
<text x="324" y="833" font-size="10.2" fill="#000" stroke="#000" stroke-width="0.16" textLength="51" lengthAdjust="spacingAndGlyphs">3 Aug 20:00</text>
<text x="388" y="833" font-size="10.2" fill="#000" stroke="#000" stroke-width="0.16" textLength="51" lengthAdjust="spacingAndGlyphs">4 Aug 12:00</text>
<text x="452" y="833" font-size="10.2" fill="#000" stroke="#000" stroke-width="0.16" textLength="51" lengthAdjust="spacingAndGlyphs">5 Aug 04:00</text>
<text x="516" y="833" font-size="10.2" fill="#000" stroke="#000" stroke-width="0.16" textLength="51" lengthAdjust="spacingAndGlyphs">7 Aug 23:00</text>
<text x="580" y="833" font-size="10.2" fill="#000" stroke="#000" stroke-width="0.16" textLength="51" lengthAdjust="spacingAndGlyphs">8 Aug 12:00</text>
<text x="644" y="833" font-size="10.2" fill="#000" stroke="#000" stroke-width="0.16" textLength="51" lengthAdjust="spacingAndGlyphs">9 Aug 04:00</text>
<text x="708" y="833" font-size="10.2" fill="#000" stroke="#000" stroke-width="0.16" textLength="51" lengthAdjust="spacingAndGlyphs">9 Aug 20:00</text>
<text x="772" y="833" font-size="10.2" fill="#000" stroke="#000" stroke-width="0.16" textLength="56.5" lengthAdjust="spacingAndGlyphs">10 Aug 12:00</text>
<text x="836" y="833" font-size="10.2" fill="#000" stroke="#000" stroke-width="0.16" textLength="56.5" lengthAdjust="spacingAndGlyphs">11 Aug 04:00</text>
<text x="900" y="833" font-size="10.2" fill="#000" stroke="#000" stroke-width="0.16" textLength="56.5" lengthAdjust="spacingAndGlyphs">11 Aug 20:00</text>
<text x="964" y="833" font-size="10.2" fill="#000" stroke="#000" stroke-width="0.16" textLength="56.5" lengthAdjust="spacingAndGlyphs">12 Aug 12:00</text>
<text x="1028" y="833" font-size="10.2" fill="#000" stroke="#000" stroke-width="0.16" textLength="56.5" lengthAdjust="spacingAndGlyphs">15 Aug 04:00</text>
<text x="1092" y="833" font-size="10.2" fill="#000" stroke="#000" stroke-width="0.16" textLength="56.5" lengthAdjust="spacingAndGlyphs">15 Aug 20:00</text>
<text x="1156" y="833" font-size="10.2" fill="#000" stroke="#000" stroke-width="0.16" textLength="56.5" lengthAdjust="spacingAndGlyphs">16 Aug 12:00</text>
<text x="1220" y="833" font-size="10.2" fill="#000" stroke="#000" stroke-width="0.16" textLength="56.5" lengthAdjust="spacingAndGlyphs">17 Aug 04:00</text>
<text x="1284" y="833" font-size="10.2" fill="#000" stroke="#000" stroke-width="0.16" textLength="56.5" lengthAdjust="spacingAndGlyphs">17 Aug 20:00</text>
</g>
<g id="toolbar">
<!-- separators, grips, pressed buttons -->
<g shape-rendering="crispEdges">
<rect x="5" y="0" width="1" height="19" fill="#a0a0a0"/>
<rect x="241" y="0" width="1" height="21" fill="#a0a0a0"/><rect x="242" y="0" width="1" height="21" fill="#fff"/>
<rect x="609" y="0" width="1" height="21" fill="#a0a0a0"/><rect x="610" y="0" width="1" height="21" fill="#fff"/>
<rect x="915" y="0" width="1" height="21" fill="#a0a0a0"/><rect x="916" y="0" width="1" height="21" fill="#fff"/>
<rect x="1176" y="0" width="1" height="21" fill="#a0a0a0"/><rect x="1177" y="0" width="1" height="21" fill="#fff"/>
<rect x="280" y="0" width="24" height="19" fill="url(#chk)"/>
<rect x="432" y="0" width="24" height="19" fill="url(#chk)"/>
<rect x="460" y="0" width="24" height="19" fill="url(#chk)"/>
<rect x="620" y="0" width="24" height="19" fill="url(#chk)"/>
<rect x="1066" y="0" width="24" height="19" fill="url(#chk)"/>
<rect x="279" y="0" width="1" height="19" fill="#a0a0a0"/>
<rect x="336" y="0" width="1" height="19" fill="#a0a0a0"/>
<rect x="426" y="0" width="1" height="19" fill="#a0a0a0"/>
<rect x="431" y="0" width="1" height="19" fill="#a0a0a0"/>
<rect x="459" y="0" width="1" height="19" fill="#a0a0a0"/>
<rect x="488" y="0" width="1" height="19" fill="#a0a0a0"/>
<rect x="619" y="0" width="1" height="19" fill="#a0a0a0"/>
<rect x="676" y="0" width="1" height="19" fill="#a0a0a0"/>
<rect x="1065" y="0" width="1" height="19" fill="#a0a0a0"/>
<rect x="280" y="19" width="24" height="1" fill="#fff"/><rect x="432" y="19" width="24" height="1" fill="#fff"/><rect x="460" y="19" width="24" height="1" fill="#fff"/><rect x="620" y="19" width="24" height="1" fill="#fff"/><rect x="1066" y="19" width="24" height="1" fill="#fff"/>
<rect x="245" y="1" width="3" height="1" fill="#b4b4b4"/>
<rect x="245" y="3" width="3" height="1" fill="#b4b4b4"/>
<rect x="245" y="5" width="3" height="1" fill="#b4b4b4"/>
<rect x="245" y="7" width="3" height="1" fill="#b4b4b4"/>
<rect x="245" y="9" width="3" height="1" fill="#b4b4b4"/>
<rect x="245" y="11" width="3" height="1" fill="#b4b4b4"/>
<rect x="245" y="13" width="3" height="1" fill="#b4b4b4"/>
<rect x="245" y="15" width="3" height="1" fill="#b4b4b4"/>
<rect x="245" y="17" width="3" height="1" fill="#b4b4b4"/>
<rect x="613" y="1" width="3" height="1" fill="#b4b4b4"/>
<rect x="613" y="3" width="3" height="1" fill="#b4b4b4"/>
<rect x="613" y="5" width="3" height="1" fill="#b4b4b4"/>
<rect x="613" y="7" width="3" height="1" fill="#b4b4b4"/>
<rect x="613" y="9" width="3" height="1" fill="#b4b4b4"/>
<rect x="613" y="11" width="3" height="1" fill="#b4b4b4"/>
<rect x="613" y="13" width="3" height="1" fill="#b4b4b4"/>
<rect x="613" y="15" width="3" height="1" fill="#b4b4b4"/>
<rect x="613" y="17" width="3" height="1" fill="#b4b4b4"/>
<rect x="919" y="1" width="3" height="1" fill="#b4b4b4"/>
<rect x="919" y="3" width="3" height="1" fill="#b4b4b4"/>
<rect x="919" y="5" width="3" height="1" fill="#b4b4b4"/>
<rect x="919" y="7" width="3" height="1" fill="#b4b4b4"/>
<rect x="919" y="9" width="3" height="1" fill="#b4b4b4"/>
<rect x="919" y="11" width="3" height="1" fill="#b4b4b4"/>
<rect x="919" y="13" width="3" height="1" fill="#b4b4b4"/>
<rect x="919" y="15" width="3" height="1" fill="#b4b4b4"/>
<rect x="919" y="17" width="3" height="1" fill="#b4b4b4"/>
</g>
<path d="M15.5 1.8h7.6l3.2 3.3v9.4h-10.8z" fill="#fff" stroke="#787878" stroke-width="1" stroke-linejoin="round"/>
<path d="M23.1 1.8v3.3h3.2" fill="#fff" stroke="#787878" stroke-width="0.9"/>
<g fill="#8a8a8a"><rect x="17.1" y="3.1" width="2.8" height="1.6"/><rect x="17.1" y="7" width="5.5" height="0.8"/><rect x="17.1" y="9.1" width="4.6" height="0.8"/><rect x="17.1" y="11.1" width="2" height="0.8"/></g>
<path d="M23.5 7.6h3v4h3.9v2.9h-3.9v3.9h-3v-3.9h-4.1v-2.9h4.1z" fill="url(#gPlus)" stroke="#047a08" stroke-width="0.95" stroke-linejoin="miter"/><path d="M24.2 8.4v3.9h-4" fill="none" stroke="#b0ffb8" stroke-width="0.7" opacity="0.7"/>
<text x="33.6" y="11.8" font-size="12" font-weight="400" fill="#000" stroke="#000" stroke-width="0.25" textLength="36.6" lengthAdjust="spacingAndGlyphs">新订单</text>
<path d="M87.8 2.1L97.6 10.2v1.6L89.9 16.8L82 11.2L85.3 7.6z" fill="#c8a040" stroke="#9a6408" stroke-width="0.9" stroke-linejoin="round"/>
<path d="M87.9 2.6L96.8 10L89.6 14.8L83 10.6L85.8 7.6z" fill="url(#gGold)"/>
<path d="M83 11.4L89.8 15.8L97 11" fill="none" stroke="#f6e6a0" stroke-width="0.7"/>
<path d="M112.2 2L115.2 1.3h3.6L123.2 3.8v6.6h-11z" fill="#2a9af4"/>
<path d="M112.2 2.2L115.4 3.8v6.4h-3.2z" fill="#0a84e8"/>
<path d="M112.4 1.9L115.3 1.4h3.4L123 3.7h-7.4z" fill="#5cb8fa"/>
<path d="M115.4 3.8v6.4" stroke="#d8eefc" stroke-width="0.6"/>
<rect x="117.2" y="5.2" width="4.6" height="1.5" fill="#e4f2ff"/>
<path d="M113.2 16.4a2.9 2.9 0 0 1 -0.4-5.6a3.2 3.2 0 0 1 5.2-1.6a3 3 0 0 1 4.6 1.6a2.8 2.8 0 0 1 0.6 5.6z" fill="url(#gCloud)" stroke="#4a6aa8" stroke-width="0.9"/>
<circle cx="146" cy="8.8" r="8" fill="#f3f5f9"/>
<path d="M146 8.8V0.8A8 8 0 0 1 146 16.8z" fill="url(#gRadar)"/>
<g fill="none" stroke="#4c74d8" stroke-dasharray="2.2 1.1"><path d="M146 1.2A7.6 7.6 0 0 0 146 16.4" stroke-width="0.9" opacity="0.6"/><path d="M146 3.8A5 5 0 0 0 146 13.8" stroke-width="0.9" opacity="0.55"/><path d="M146 6.2A2.6 2.6 0 0 0 146 11.4" stroke-width="0.9" opacity="0.6"/></g>
<g fill="none" stroke="#fff" opacity="0.55"><path d="M146 3.8A5 5 0 0 1 146 13.8" stroke-width="0.8"/><path d="M146 6.2A2.6 2.6 0 0 1 146 11.4" stroke-width="0.7"/></g>
<path d="M146 1.2A7.6 7.6 0 0 1 153.4 10.6" fill="none" stroke="#7a9ac0" stroke-width="0.8" opacity="0.7"/>
<circle cx="146.1" cy="8.6" r="1.9" fill="#2a58cc"/><rect x="146" y="9" width="1.3" height="7.7" fill="#18a418"/>
<path d="M166 8.2h13.5l-2 4l-4.2 4.8l-4.5-2.5z" fill="url(#gFace)" stroke="#d0a020" stroke-width="0.6"/>
<ellipse cx="173" cy="5.8" rx="7.8" ry="2.3" fill="url(#gHat)" stroke="#3a7ab8" stroke-width="0.6"/>
<path d="M169.4 5.4a3.5 4.2 0 0 1 7 0a3.5 1.1 0 0 1 -7 0z" fill="#62b0e6" stroke="#3a7ab8" stroke-width="0.5"/>
<circle cx="177.5" cy="12.8" r="3.9" fill="#e22a10" stroke="#b41c0a" stroke-width="0.6"/><rect x="176" y="11.2" width="3.1" height="3.1" fill="#fff"/>
<text x="186.6" y="11.8" font-size="12" font-weight="400" fill="#000" stroke="#000" stroke-width="0.25" textLength="46" lengthAdjust="spacingAndGlyphs">自动交易</text>
<g shape-rendering="crispEdges" fill="#585858"><rect x="259" y="3" width="1" height="14"/><rect x="257" y="14" width="14" height="1"/><rect x="258" y="4" width="1" height="1"/><rect x="260" y="4" width="1" height="1"/><rect x="269" y="13" width="1" height="1"/><rect x="269" y="15" width="1" height="1"/></g>
<g shape-rendering="crispEdges" fill="#0a860a"><rect x="265" y="4" width="1" height="9"/><rect x="266" y="5" width="2" height="1"/><rect x="263" y="11" width="2" height="1"/></g>
<g shape-rendering="crispEdges" fill="#585858"><rect x="287" y="3" width="1" height="14"/><rect x="285" y="14" width="14" height="1"/><rect x="286" y="4" width="1" height="1"/><rect x="288" y="4" width="1" height="1"/><rect x="297" y="13" width="1" height="1"/><rect x="297" y="15" width="1" height="1"/></g>
<g shape-rendering="crispEdges"><rect x="293" y="1" width="1" height="12" fill="#0e8a0e"/><rect x="291" y="3" width="5" height="8" fill="#0e8a0e"/><rect x="292" y="4" width="3" height="6" fill="#4ae84a"/><rect x="292" y="4" width="1" height="6" fill="#8af88a"/></g>
<g shape-rendering="crispEdges" fill="#585858"><rect x="315" y="3" width="1" height="14"/><rect x="313" y="14" width="14" height="1"/><rect x="314" y="4" width="1" height="1"/><rect x="316" y="4" width="1" height="1"/><rect x="325" y="13" width="1" height="1"/><rect x="325" y="15" width="1" height="1"/></g>
<path d="M314.2 11.6C317 9.8 318.4 6.1 320.2 6.1C322 6.1 323.4 9.4 325.8 10.2" fill="none" stroke="#2a8a2a" stroke-width="1.1"/>
<path d="M354.40000000000003 11L359.7 15.6" stroke="#a87c10" stroke-width="3.3"/>
<path d="M354.40000000000003 11L359.40000000000003 15.3" stroke="#f0d040" stroke-width="1.9"/>
<circle cx="350.8" cy="7.2" r="5.4" fill="url(#gLens)" stroke="#3a78c4" stroke-width="1.2"/>
<rect x="347.8" y="6.4" width="6" height="1.7" fill="#3c7ca8"/>
<rect x="349.95" y="4.2" width="1.7" height="6" fill="#3c7ca8"/>
<path d="M382.8 11L388.09999999999997 15.6" stroke="#a87c10" stroke-width="3.3"/>
<path d="M382.8 11L387.8 15.3" stroke="#f0d040" stroke-width="1.9"/>
<circle cx="379.2" cy="7.2" r="5.4" fill="url(#gLens)" stroke="#3a78c4" stroke-width="1.2"/>
<rect x="376.2" y="6.4" width="6" height="1.7" fill="#3c7ca8"/>
<rect x="401" y="1" width="8" height="8" fill="url(#gGreenSq)"/>
<path d="M402 4h6v4.2h-1v-1h-4v1h-1z" fill="#fff"/><rect x="403.2" y="5.2" width="3.6" height="0.9" fill="#a8dc90"/><rect x="402" y="2" width="1" height="1" fill="#fff" opacity="0.85"/>
<rect x="409" y="1" width="8" height="8" fill="url(#gBlueSq)"/>
<path d="M410 4h6v4.2h-1v-1h-4v1h-1z" fill="#fff"/><rect x="411.2" y="5.2" width="3.6" height="0.9" fill="#a0b8f0"/><rect x="410" y="2" width="1" height="1" fill="#fff" opacity="0.85"/>
<rect x="401" y="9" width="8" height="8" fill="url(#gBlueSq)"/>
<path d="M402 12h6v4.2h-1v-1h-4v1h-1z" fill="#fff"/><rect x="403.2" y="13.2" width="3.6" height="0.9" fill="#a0b8f0"/><rect x="402" y="10" width="1" height="1" fill="#fff" opacity="0.85"/>
<rect x="409" y="9" width="8" height="8" fill="url(#gGreenSq)"/>
<path d="M410 12h6v4.2h-1v-1h-4v1h-1z" fill="#fff"/><rect x="411.2" y="13.2" width="3.6" height="0.9" fill="#a8dc90"/><rect x="410" y="10" width="1" height="1" fill="#fff" opacity="0.85"/>
<g shape-rendering="crispEdges" fill="#585858"><rect x="439" y="3" width="1" height="14"/><rect x="437" y="14" width="14" height="1"/><rect x="438" y="4" width="1" height="1"/><rect x="440" y="4" width="1" height="1"/><rect x="449" y="13" width="1" height="1"/><rect x="449" y="15" width="1" height="1"/></g>
<path d="M444.4 5.4l3.7 3.1l-3.7 3.1z" fill="#6cf07c" stroke="#0a8a0a" stroke-width="0.9" stroke-linejoin="round"/>
<g shape-rendering="crispEdges" fill="#585858"><rect x="467" y="3" width="1" height="14"/><rect x="465" y="14" width="14" height="1"/><rect x="466" y="4" width="1" height="1"/><rect x="468" y="4" width="1" height="1"/><rect x="477" y="13" width="1" height="1"/><rect x="477" y="15" width="1" height="1"/></g>
<rect x="473" y="3" width="1.2" height="10" fill="#1070a0"/>
<path d="M474.4 8.4l2.4-2l-0.5 1.5h2.3v1.1h-2.3l0.5 1.5z" fill="#e05808" stroke="#b83800" stroke-width="0.5"/>
<path d="M498.6 1.8h7.6l3.2 3.3v9.4h-10.8z" fill="#fff" stroke="#787878" stroke-width="1" stroke-linejoin="round"/>
<path d="M506.2 1.8v3.3h3.2" fill="#fff" stroke="#787878" stroke-width="0.9"/>
<path d="M503.8 4.1c-1.8-0.3-2.3 0.5-2.3 1.8v5.8M500.4 7.4h3" fill="none" stroke="#3a3020" stroke-width="1"/>
<path d="M506.6 7.6h3v4h3.9v2.9h-3.9v3.9h-3v-3.9h-4.1v-2.9h4.1z" fill="url(#gPlus)" stroke="#047a08" stroke-width="0.95" stroke-linejoin="miter"/><path d="M507.3 8.4v3.9h-4" fill="none" stroke="#b0ffb8" stroke-width="0.7" opacity="0.7"/>
<g shape-rendering="crispEdges" fill="#000"><rect x="520" y="8" width="5" height="1"/><rect x="521" y="9" width="3" height="1"/><rect x="522" y="10" width="1" height="1"/></g>
<circle cx="544" cy="9" r="7.7" fill="url(#gClock)"/>
<circle cx="544" cy="9" r="5.3" fill="#f6f9fd" stroke="#0c46a8" stroke-width="0.5"/>
<g fill="#9a9a9a"><rect x="547.75" y="8.65" width="0.7" height="0.7"/><rect x="547.20" y="10.70" width="0.7" height="0.7"/><rect x="545.70" y="12.20" width="0.7" height="0.7"/><rect x="543.65" y="12.75" width="0.7" height="0.7"/><rect x="541.60" y="12.20" width="0.7" height="0.7"/><rect x="540.10" y="10.70" width="0.7" height="0.7"/><rect x="539.55" y="8.65" width="0.7" height="0.7"/><rect x="540.10" y="6.60" width="0.7" height="0.7"/><rect x="541.60" y="5.10" width="0.7" height="0.7"/><rect x="543.65" y="4.55" width="0.7" height="0.7"/><rect x="545.70" y="5.10" width="0.7" height="0.7"/><rect x="547.20" y="6.60" width="0.7" height="0.7"/></g>
<path d="M543.4 5.2l0.5 3.9l2.9 0.2" fill="none" stroke="#101010" stroke-width="1.3" stroke-linejoin="round"/>
<g shape-rendering="crispEdges" fill="#000"><rect x="559" y="8" width="5" height="1"/><rect x="560" y="9" width="3" height="1"/><rect x="561" y="10" width="1" height="1"/></g>
<g shape-rendering="crispEdges"><rect x="575" y="2" width="16" height="14" fill="#3670c0"/><rect x="576" y="3" width="14" height="2" fill="#6eaaee"/><rect x="577" y="3" width="6" height="1" fill="#b8d8fa"/><rect x="576" y="5" width="14" height="5" fill="#fff"/><rect x="576" y="11" width="14" height="4" fill="#fff"/><g fill="#8e1c0a"><rect x="577" y="8" width="2" height="1"/><rect x="579" y="7" width="2" height="1"/><rect x="581" y="6" width="2" height="1"/><rect x="583" y="7" width="3" height="1"/><rect x="586" y="6" width="2" height="1"/></g><g fill="#0c8c1c"><rect x="578" y="13" width="2" height="1"/><rect x="580" y="12" width="2" height="1"/><rect x="582" y="13" width="2" height="1"/><rect x="584" y="12" width="1" height="1"/><rect x="585" y="11" width="2" height="1"/><rect x="587" y="12" width="1" height="1"/><rect x="588" y="13" width="1" height="1"/></g></g>
<g shape-rendering="crispEdges" fill="#000"><rect x="598" y="8" width="5" height="1"/><rect x="599" y="9" width="3" height="1"/><rect x="600" y="10" width="1" height="1"/></g>
<path d="M627 2v12.6l3-2.8l2.4 4.8l2-1l-2.4-4.6h4z" fill="#505050"/>
<g shape-rendering="crispEdges" fill="#505050"><rect x="652" y="9" width="6" height="1"/><rect x="661" y="9" width="6" height="1"/><rect x="659" y="2" width="1" height="6"/><rect x="659" y="11" width="1" height="6"/><rect x="659" y="9" width="1" height="1"/></g>
<g shape-rendering="crispEdges" fill="#505050"><rect x="693" y="3" width="1" height="13"/><rect x="716" y="9" width="12" height="1"/></g>
<path d="M743.8 16L756 3.6" stroke="#5a5a5a" stroke-width="0.95"/>
<g stroke="#484848" fill="none"><path d="M769.6 10.6L777.8 3.1M775 15.8L784 7.4" stroke-width="0.9"/><path d="M771 15L783.4 3.6" stroke-width="1.1"/><path d="M772.6 9.4l0.9 5M775.2 7l0.9 5M777.8 4.6l0.9 5M781.5 1.2l0.5 5.6" stroke-width="1"/></g>
<text x="780.8" y="17.9" font-size="7" font-weight="bold" fill="#3c3c3c">E</text>
<g shape-rendering="crispEdges" fill="#606060"><rect x="799" y="2" width="1" height="1"/><rect x="801" y="2" width="1" height="1"/><rect x="803" y="2" width="1" height="1"/><rect x="805" y="2" width="1" height="1"/><rect x="807" y="2" width="1" height="1"/><rect x="809" y="2" width="1" height="1"/><rect x="811" y="2" width="1" height="1"/><rect x="799" y="5" width="1" height="1"/><rect x="801" y="5" width="1" height="1"/><rect x="803" y="5" width="1" height="1"/><rect x="805" y="5" width="1" height="1"/><rect x="807" y="5" width="1" height="1"/><rect x="809" y="5" width="1" height="1"/><rect x="811" y="5" width="1" height="1"/><rect x="799" y="9" width="1" height="1"/><rect x="801" y="9" width="1" height="1"/><rect x="803" y="9" width="1" height="1"/><rect x="805" y="9" width="1" height="1"/><rect x="807" y="9" width="1" height="1"/><rect x="809" y="9" width="1" height="1"/><rect x="811" y="9" width="1" height="1"/><rect x="799" y="13" width="1" height="1"/><rect x="801" y="13" width="1" height="1"/><rect x="803" y="13" width="1" height="1"/><rect x="805" y="13" width="1" height="1"/><rect x="807" y="13" width="1" height="1"/></g>
<text x="808.6" y="17.8" font-size="7" font-weight="bold" fill="#404040">F</text>
<text x="830" y="13.8" font-size="12.5" fill="#505050" stroke="#505050" stroke-width="0.3" textLength="7.4" lengthAdjust="spacingAndGlyphs">A</text>
<g shape-rendering="crispEdges" fill="#606060"><rect x="856" y="3" width="1" height="1"/><rect x="856" y="15" width="1" height="1"/><rect x="858" y="3" width="1" height="1"/><rect x="858" y="15" width="1" height="1"/><rect x="860" y="3" width="1" height="1"/><rect x="860" y="15" width="1" height="1"/><rect x="862" y="3" width="1" height="1"/><rect x="862" y="15" width="1" height="1"/><rect x="864" y="3" width="1" height="1"/><rect x="864" y="15" width="1" height="1"/><rect x="866" y="3" width="1" height="1"/><rect x="866" y="15" width="1" height="1"/><rect x="868" y="3" width="1" height="1"/><rect x="868" y="15" width="1" height="1"/><rect x="856" y="3" width="1" height="1"/><rect x="868" y="3" width="1" height="1"/><rect x="856" y="5" width="1" height="1"/><rect x="868" y="5" width="1" height="1"/><rect x="856" y="7" width="1" height="1"/><rect x="868" y="7" width="1" height="1"/><rect x="856" y="9" width="1" height="1"/><rect x="868" y="9" width="1" height="1"/><rect x="856" y="11" width="1" height="1"/><rect x="868" y="11" width="1" height="1"/><rect x="856" y="13" width="1" height="1"/><rect x="868" y="13" width="1" height="1"/><rect x="856" y="15" width="1" height="1"/><rect x="868" y="15" width="1" height="1"/><rect x="858" y="6" width="8" height="1.4" fill="#505050"/><rect x="861.3" y="6" width="1.5" height="8" fill="#505050"/></g>
<path d="M886.5 2.8l3.6 2.6l-3.6 2.4l-3.4-2.4z" fill="#505050"/><path d="M893.5 11l3.6 2.6l-3.6 2.6l-3.4-2.6z" fill="#505050"/><path d="M885.4 10.4l2 1.8l4.4-4.6" fill="none" stroke="#505050" stroke-width="1.2"/>
<g shape-rendering="crispEdges" fill="#000"><rect x="904" y="8" width="5" height="1"/><rect x="905" y="9" width="3" height="1"/><rect x="906" y="10" width="1" height="1"/></g>
<text x="930.8" y="12.8" font-size="9.4" fill="#303030" stroke="#303030" stroke-width="0.15" textLength="12.4" lengthAdjust="spacingAndGlyphs">M1</text>
<text x="958.8" y="12.8" font-size="9.4" fill="#303030" stroke="#303030" stroke-width="0.15" textLength="12.4" lengthAdjust="spacingAndGlyphs">M5</text>
<text x="984.8" y="12.8" font-size="9.4" fill="#303030" stroke="#303030" stroke-width="0.15" textLength="17.4" lengthAdjust="spacingAndGlyphs">M15</text>
<text x="1013" y="12.8" font-size="9.4" fill="#303030" stroke="#303030" stroke-width="0.15" textLength="17.4" lengthAdjust="spacingAndGlyphs">M30</text>
<text x="1043.8" y="12.8" font-size="9.4" fill="#303030" stroke="#303030" stroke-width="0.15" textLength="11.4" lengthAdjust="spacingAndGlyphs">H1</text>
<text x="1070.8" y="12.8" font-size="9.4" fill="#303030" stroke="#303030" stroke-width="0.15" textLength="12" lengthAdjust="spacingAndGlyphs">H4</text>
<text x="1100" y="12.8" font-size="9.4" fill="#303030" stroke="#303030" stroke-width="0.15" textLength="11.2" lengthAdjust="spacingAndGlyphs">D1</text>
<text x="1127.2" y="12.8" font-size="9.4" fill="#303030" stroke="#303030" stroke-width="0.15" textLength="14" lengthAdjust="spacingAndGlyphs">W1</text>
<text x="1154" y="12.8" font-size="9.4" fill="#303030" stroke="#303030" stroke-width="0.15" textLength="14" lengthAdjust="spacingAndGlyphs">MN</text>
<path d="M1643.7 9.6L1639 13.9" stroke="#1c48c8" stroke-width="2.5" stroke-linecap="round"/>
<path d="M1643 10.2L1639.2 13.7" stroke="#6c8ce8" stroke-width="0.8" stroke-dasharray="0.8 0.8"/>
<circle cx="1646.7" cy="6.4" r="4.1" fill="#f2f2f8" stroke="#2a56d8" stroke-width="1.15"/>
<path d="M1663.1 10.8a5.4 4.6 0 1 1 6 4.55l-2.4 2.3l0.1-2.2a5.4 4.6 0 0 1 -3.7-4.65z" fill="url(#gBubble)" stroke="#a4a4a4" stroke-width="0.9"/>
<circle cx="1677.45" cy="7.1" r="8.3" fill="url(#gBadge)"/>
<text x="1676.6" y="11" font-size="12.6" font-weight="bold" fill="#fff" text-anchor="middle" style="font-family:'Liberation Mono',monospace">1</text>
</g>

</svg></body></html>
